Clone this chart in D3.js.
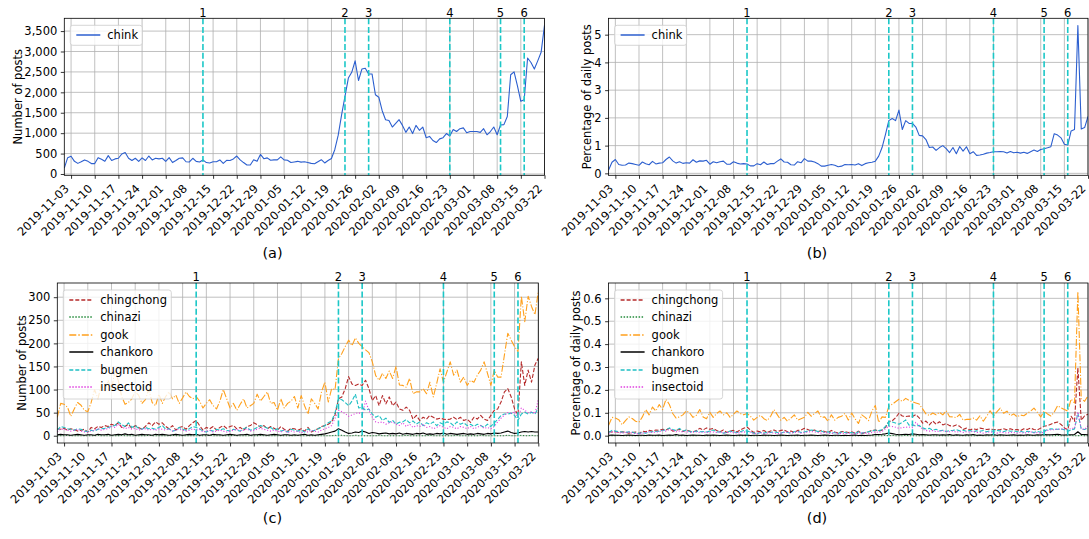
<!DOCTYPE html>
<html>
<head>
<meta charset="utf-8">
<script src="https://cdn.jsdelivr.net/npm/d3@7"></script>
<style>
  html, body { margin: 0; padding: 0; background: #fff; }
  svg { display: block; }
  text { font-family: "DejaVu Sans", sans-serif; }
</style>
</head>
<body>
<svg id="fig" width="1089" height="539"></svg>
<script>
// ---- data (one value per day, 2019-11-01 .. 2020-03-22) ----
var startDay = "2019-11-01";
var dayCount = 143;

var tickLabels = ["2019-11-03","2019-11-10","2019-11-17","2019-11-24","2019-12-01","2019-12-08",
  "2019-12-15","2019-12-22","2019-12-29","2020-01-05","2020-01-12","2020-01-19","2020-01-26",
  "2020-02-02","2020-02-09","2020-02-16","2020-02-23","2020-03-01","2020-03-08","2020-03-15","2020-03-22"];

var eventDates = ["2019-12-12","2020-01-23","2020-01-30","2020-02-23","2020-03-09","2020-03-16"];
var eventLabels = ["1","2","3","4","5","6"];

// (a) number of posts with "chink"
var chinkCounts = [
  143,400,435,310,260,300,345,310,255,255,
  400,360,310,450,330,370,385,490,525,385,
  330,385,310,395,330,440,345,385,370,385,
  310,400,280,330,385,395,300,295,385,310,
  295,345,280,270,300,300,345,260,335,330,
  370,440,345,280,220,220,350,310,480,375,
  395,335,345,345,420,345,335,280,295,310,
  290,300,280,260,250,300,350,270,330,380,
  600,950,1450,1900,2350,2490,2770,2290,2570,2590,
  2450,2450,1940,1880,1550,1330,1310,1150,1240,1330,
  1190,1020,1150,990,1190,1070,1150,890,920,820,
  770,860,890,990,930,1090,1040,1110,1130,1010,
  1040,1040,1040,1020,1110,960,1040,1150,960,1200,
  1210,1410,2430,2500,2160,1780,1820,2840,2730,2570,
  2770,2980,3640];

// (b) percentage of daily posts with "chink"
var chinkPct = [
  0.12,0.40,0.50,0.32,0.29,0.30,0.37,0.35,0.32,0.29,
  0.41,0.35,0.31,0.43,0.34,0.37,0.38,0.50,0.59,0.45,
  0.37,0.42,0.36,0.38,0.37,0.49,0.40,0.45,0.44,0.47,
  0.33,0.42,0.38,0.42,0.44,0.33,0.33,0.42,0.37,0.34,
  0.35,0.34,0.27,0.27,0.35,0.31,0.41,0.32,0.35,0.35,
  0.44,0.52,0.41,0.40,0.31,0.30,0.42,0.38,0.53,0.44,
  0.44,0.41,0.35,0.26,0.26,0.29,0.32,0.29,0.24,0.26,
  0.32,0.31,0.32,0.30,0.35,0.28,0.35,0.38,0.40,0.44,
  0.62,0.93,1.40,1.90,1.98,1.90,2.28,1.58,1.90,1.80,
  1.80,1.67,1.37,1.35,1.22,0.93,0.95,0.83,0.93,1.00,
  0.89,0.75,0.93,0.71,0.97,0.80,0.96,0.71,0.78,0.65,
  0.66,0.69,0.73,0.75,0.78,0.78,0.79,0.78,0.73,0.79,
  0.74,0.76,0.73,0.76,0.72,0.78,0.84,0.79,0.86,0.89,
  0.92,0.96,1.43,1.38,1.28,1.05,1.02,1.53,1.58,5.33,
  1.60,1.65,2.05];

// (c) number of posts, other terms
var chingchongCounts = [
  15,14,16,12,15,13,10,12,14,8,
  18,15,20,18,22,20,25,22,28,18,
  20,25,16,22,18,14,20,28,22,30,
  25,28,20,15,22,12,18,20,14,22,
  28,33,22,12,18,15,20,12,18,22,
  16,20,22,15,18,12,20,22,28,24,
  18,22,15,20,16,12,20,14,10,16,
  15,12,15,10,18,8,12,15,20,22,
  25,30,45,80,84,102,128,112,109,112,
  109,120,102,76,87,65,87,69,84,65,
  73,58,55,62,55,36,44,33,40,36,
  44,40,36,38,36,35,36,40,35,40,
  33,36,29,40,36,44,36,33,44,55,
  58,73,95,102,84,58,45,160,109,142,
  116,153,168];

var chinaziCounts = [
  0,0,0,1,0,0,0,0,0,0,
  0,0,1,0,0,0,0,0,0,1,
  0,0,0,0,0,0,0,1,0,0,
  0,0,0,0,1,0,0,0,0,0,
  0,0,0,0,0,1,0,0,0,0,
  0,0,1,0,0,0,0,0,0,0,
  1,0,0,0,0,0,0,0,0,0,
  0,1,0,0,0,0,0,0,0,0,
  0,0,1,0,1,0,0,0,1,0,
  0,0,0,0,0,1,0,0,0,0,
  0,0,0,1,0,0,0,0,0,0,
  1,0,0,0,0,0,0,0,1,0,
  0,0,0,0,0,1,0,0,0,0,
  0,0,0,1,0,0,0,1,0,0,
  1,0,0];

var gookCounts = [
  40,70,68,62,42,58,72,66,55,52,
  72,100,80,110,95,120,100,140,120,85,
  68,72,80,95,88,70,78,100,72,65,
  90,70,85,95,80,88,70,82,95,85,
  80,85,75,60,70,78,65,58,75,100,
  80,60,70,55,68,80,60,65,70,90,
  75,85,95,70,72,55,80,60,70,75,
  85,60,87,65,47,80,70,58,95,116,
  73,102,100,167,178,193,207,195,212,200,
  193,186,180,160,130,120,135,124,140,124,
  150,110,109,105,124,91,95,95,102,91,
  116,84,113,145,116,138,160,131,142,116,
  127,109,120,116,131,142,160,135,109,142,
  127,127,175,222,207,193,182,302,247,302,
  280,262,312];

var chankoroCounts = [
  2,3,2,2,1,2,3,2,1,2,
  2,1,3,2,2,3,1,2,3,2,
  4,2,3,1,2,3,2,2,1,3,
  2,3,2,1,2,3,2,1,2,3,
  2,3,1,2,2,1,3,2,2,1,
  2,3,2,1,2,2,3,1,2,2,
  3,2,1,2,3,2,1,2,2,1,
  2,1,2,3,1,2,1,2,3,4,
  6,8,10,15,12,8,5,6,8,7,
  10,8,5,7,6,4,5,6,4,5,
  4,6,3,5,4,3,5,4,6,3,
  4,3,5,4,6,3,5,4,3,4,
  5,3,4,3,5,4,3,5,4,6,
  5,6,8,10,7,5,6,8,9,8,
  9,8,8];

var bugmenCounts = [
  12,20,18,15,14,12,15,14,10,9,
  12,10,14,15,16,18,20,22,30,24,
  20,28,18,22,16,14,18,15,16,14,
  18,22,14,15,10,12,18,14,12,15,
  20,18,15,10,8,12,10,14,12,15,
  12,10,14,12,10,15,18,12,14,18,
  22,20,16,18,12,15,10,12,8,14,
  12,10,12,8,15,10,12,15,18,22,
  28,32,50,80,78,72,65,75,90,60,
  62,55,58,47,40,44,33,38,29,33,
  25,29,30,35,28,32,25,30,22,28,
  25,30,22,28,25,30,28,22,30,25,
  28,22,25,20,25,22,18,25,20,28,
  35,44,47,47,49,44,33,47,51,47,
  51,47,60];

var insectoidCounts = [
  8,15,14,12,10,12,14,10,8,8,
  10,12,15,12,14,15,20,18,25,20,
  15,18,14,16,12,14,15,12,14,12,
  15,14,12,15,10,12,14,12,10,12,
  15,12,14,8,10,12,8,10,12,10,
  8,10,12,14,10,12,15,10,12,14,
  16,14,12,10,12,10,8,12,6,10,
  8,10,6,10,8,12,10,8,12,15,
  18,22,38,55,52,48,42,45,48,50,
  45,75,55,40,30,28,30,25,28,30,
  25,22,28,20,25,18,22,20,25,18,
  20,15,18,22,18,15,20,18,15,20,
  18,15,20,15,18,22,16,18,15,20,
  30,38,45,50,48,52,40,60,55,50,
  52,48,78];

// (d) percentage of daily posts, other terms
var chingchongPct = [
  0.017,0.016,0.018,0.014,0.017,0.015,0.011,0.014,0.016,0.009,
  0.020,0.017,0.023,0.020,0.025,0.023,0.028,0.025,0.032,0.020,
  0.023,0.028,0.018,0.025,0.020,0.016,0.023,0.032,0.025,0.034,
  0.028,0.032,0.023,0.017,0.025,0.014,0.020,0.023,0.016,0.025,
  0.032,0.038,0.025,0.014,0.020,0.017,0.023,0.014,0.020,0.025,
  0.018,0.023,0.025,0.017,0.020,0.014,0.023,0.025,0.032,0.027,
  0.020,0.025,0.017,0.023,0.018,0.014,0.023,0.016,0.011,0.018,
  0.017,0.014,0.017,0.011,0.020,0.009,0.014,0.017,0.023,0.025,
  0.020,0.024,0.036,0.062,0.065,0.078,0.098,0.086,0.084,0.086,
  0.084,0.092,0.078,0.055,0.064,0.047,0.064,0.050,0.061,0.047,
  0.053,0.044,0.041,0.047,0.041,0.027,0.033,0.025,0.030,0.027,
  0.033,0.030,0.027,0.029,0.027,0.026,0.027,0.030,0.026,0.030,
  0.025,0.027,0.022,0.030,0.027,0.033,0.027,0.025,0.033,0.041,
  0.044,0.050,0.056,0.060,0.049,0.034,0.026,0.085,0.063,0.296,
  0.067,0.087,0.094];

var chinaziPct = [
  0,0,0,0.001,0,0,0,0,0,0,
  0,0,0.001,0,0,0,0,0,0,0.001,
  0,0,0,0,0,0,0,0.001,0,0,
  0,0,0,0,0.001,0,0,0,0,0,
  0,0,0,0,0,0.001,0,0,0,0,
  0,0,0.001,0,0,0,0,0,0,0,
  0.001,0,0,0,0,0,0,0,0,0,
  0,0.001,0,0,0,0,0,0,0,0,
  0,0,0.001,0,0.001,0,0,0,0.001,0,
  0,0,0,0,0,0.001,0,0,0,0,
  0,0,0,0.001,0,0,0,0,0,0,
  0.001,0,0,0,0,0,0,0,0.001,0,
  0,0,0,0,0,0.001,0,0,0,0,
  0,0,0,0.001,0,0,0,0.001,0,0,
  0.001,0,0];

var gookPct = [
  0.045,0.080,0.077,0.070,0.048,0.066,0.082,0.075,0.063,0.059,
  0.082,0.114,0.091,0.125,0.108,0.136,0.114,0.159,0.136,0.097,
  0.077,0.082,0.091,0.108,0.100,0.080,0.089,0.114,0.082,0.074,
  0.102,0.080,0.097,0.108,0.091,0.100,0.080,0.093,0.108,0.097,
  0.091,0.097,0.085,0.068,0.080,0.089,0.074,0.066,0.085,0.114,
  0.091,0.068,0.080,0.063,0.077,0.091,0.068,0.074,0.080,0.102,
  0.085,0.097,0.108,0.080,0.082,0.063,0.091,0.068,0.080,0.085,
  0.097,0.068,0.099,0.074,0.053,0.091,0.080,0.066,0.108,0.132,
  0.058,0.082,0.080,0.128,0.137,0.148,0.159,0.150,0.163,0.154,
  0.148,0.143,0.138,0.117,0.095,0.088,0.099,0.091,0.102,0.091,
  0.109,0.083,0.082,0.079,0.093,0.068,0.071,0.071,0.077,0.068,
  0.087,0.063,0.085,0.109,0.087,0.104,0.120,0.098,0.107,0.087,
  0.095,0.082,0.090,0.087,0.098,0.107,0.120,0.102,0.082,0.107,
  0.095,0.086,0.103,0.131,0.122,0.114,0.107,0.160,0.143,0.629,
  0.162,0.150,0.175];

var chankoroPct = [
  0.002,0.003,0.002,0.002,0.001,0.002,0.003,0.002,0.001,0.002,
  0.002,0.001,0.003,0.002,0.002,0.003,0.001,0.002,0.003,0.002,
  0.005,0.002,0.003,0.001,0.002,0.003,0.002,0.002,0.001,0.003,
  0.002,0.003,0.002,0.001,0.002,0.003,0.002,0.001,0.002,0.003,
  0.002,0.003,0.001,0.002,0.002,0.001,0.003,0.002,0.002,0.001,
  0.002,0.003,0.002,0.001,0.002,0.002,0.003,0.001,0.002,0.002,
  0.003,0.002,0.001,0.002,0.003,0.002,0.001,0.002,0.002,0.001,
  0.002,0.001,0.002,0.003,0.001,0.002,0.001,0.002,0.003,0.005,
  0.005,0.006,0.008,0.012,0.009,0.006,0.004,0.005,0.006,0.005,
  0.008,0.006,0.004,0.005,0.004,0.003,0.004,0.004,0.003,0.004,
  0.003,0.005,0.002,0.004,0.003,0.002,0.004,0.003,0.005,0.002,
  0.003,0.002,0.004,0.003,0.005,0.002,0.004,0.003,0.002,0.003,
  0.004,0.002,0.003,0.002,0.004,0.003,0.002,0.004,0.003,0.005,
  0.004,0.004,0.005,0.006,0.004,0.003,0.004,0.004,0.005,0.017,
  0.005,0.005,0.004];

var bugmenPct = [
  0.014,0.023,0.020,0.017,0.016,0.014,0.017,0.016,0.011,0.010,
  0.014,0.011,0.016,0.017,0.018,0.020,0.023,0.025,0.034,0.027,
  0.023,0.032,0.020,0.025,0.018,0.016,0.020,0.017,0.018,0.016,
  0.020,0.025,0.016,0.017,0.011,0.014,0.020,0.016,0.014,0.017,
  0.023,0.020,0.017,0.011,0.009,0.014,0.011,0.016,0.014,0.017,
  0.014,0.011,0.016,0.014,0.011,0.017,0.020,0.014,0.016,0.020,
  0.025,0.023,0.018,0.020,0.014,0.017,0.011,0.014,0.009,0.016,
  0.014,0.011,0.014,0.009,0.017,0.011,0.014,0.017,0.020,0.025,
  0.022,0.026,0.040,0.062,0.060,0.055,0.050,0.058,0.069,0.046,
  0.048,0.042,0.045,0.034,0.029,0.032,0.024,0.028,0.021,0.024,
  0.018,0.022,0.023,0.026,0.021,0.024,0.019,0.023,0.017,0.021,
  0.019,0.023,0.017,0.021,0.019,0.023,0.021,0.017,0.023,0.019,
  0.021,0.017,0.019,0.015,0.019,0.017,0.014,0.019,0.015,0.021,
  0.026,0.030,0.028,0.028,0.029,0.026,0.019,0.025,0.029,0.098,
  0.029,0.027,0.034];

var insectoidPct = [
  0.009,0.017,0.016,0.014,0.011,0.014,0.016,0.011,0.009,0.009,
  0.011,0.014,0.017,0.014,0.016,0.017,0.023,0.020,0.028,0.023,
  0.017,0.020,0.016,0.018,0.014,0.016,0.017,0.014,0.016,0.014,
  0.017,0.016,0.014,0.017,0.011,0.014,0.016,0.014,0.011,0.014,
  0.017,0.014,0.016,0.009,0.011,0.014,0.009,0.011,0.014,0.011,
  0.009,0.011,0.014,0.016,0.011,0.014,0.017,0.011,0.014,0.016,
  0.018,0.016,0.014,0.011,0.014,0.011,0.009,0.014,0.007,0.011,
  0.009,0.011,0.007,0.011,0.009,0.014,0.011,0.009,0.014,0.017,
  0.014,0.018,0.030,0.042,0.040,0.037,0.032,0.035,0.037,0.038,
  0.035,0.058,0.042,0.029,0.022,0.020,0.022,0.018,0.020,0.022,
  0.018,0.017,0.021,0.015,0.019,0.014,0.017,0.015,0.019,0.014,
  0.015,0.011,0.014,0.017,0.014,0.011,0.015,0.014,0.011,0.015,
  0.014,0.011,0.015,0.011,0.014,0.017,0.012,0.014,0.011,0.015,
  0.023,0.026,0.026,0.029,0.028,0.031,0.024,0.032,0.032,0.104,
  0.030,0.027,0.044];

// ---- drawing ----
var parseDay = d3.utcParse("%Y-%m-%d");
var day0 = parseDay(startDay);
var days = d3.range(dayCount).map(function(i) { return d3.utcDay.offset(day0, i); });
var tickDates = tickLabels.map(parseDay);
var events = eventDates.map(function(d, i) { return {date: parseDay(d), label: eventLabels[i]}; });

var svg = d3.select("#fig");
svg.append("rect").attr("width", 1089).attr("height", 539).attr("fill", "#fff");

var FONT = 11.5;
var eventColor = "#1cc7c7";

function drawPanel(cfg) {
  var g = svg.append("g");
  var x = d3.scaleUtc().domain([days[0], days[dayCount - 1]]).range([cfg.left, cfg.right]);
  var y = d3.scaleLinear().domain(cfg.yDomain).range([cfg.bottom, cfg.top]);

  var clipId = "clip" + cfg.id;
  svg.append("clipPath").attr("id", clipId).append("rect")
    .attr("x", cfg.left).attr("y", cfg.top)
    .attr("width", cfg.right - cfg.left).attr("height", cfg.bottom - cfg.top);

  // grid
  g.append("g").selectAll("line").data(tickDates).join("line")
    .attr("x1", function(d) { return x(d); }).attr("x2", function(d) { return x(d); })
    .attr("y1", cfg.top).attr("y2", cfg.bottom)
    .attr("stroke", "#b0b0b0").attr("stroke-width", 0.8);
  g.append("g").selectAll("line").data(cfg.yTicks).join("line")
    .attr("x1", cfg.left).attr("x2", cfg.right)
    .attr("y1", function(d) { return y(d); }).attr("y2", function(d) { return y(d); })
    .attr("stroke", "#b0b0b0").attr("stroke-width", 0.8);

  // series
  var line = d3.line()
    .x(function(d, i) { return x(days[i]); })
    .y(function(d) { return y(d); });
  var plot = g.append("g").attr("clip-path", "url(#" + clipId + ")");
  cfg.series.forEach(function(s) {
    plot.append("path").datum(s.values)
      .attr("d", line)
      .attr("fill", "none")
      .attr("stroke", s.color)
      .attr("stroke-width", s.width || 1.1)
      .attr("stroke-dasharray", s.dash || null)
      .attr("stroke-linejoin", "round");
  });

  // event markers
  g.append("g").selectAll("line").data(events).join("line")
    .attr("x1", function(d) { return x(d.date); }).attr("x2", function(d) { return x(d.date); })
    .attr("y1", cfg.top).attr("y2", cfg.bottom)
    .attr("stroke", eventColor).attr("stroke-width", 1.6)
    .attr("stroke-dasharray", "6,2.6");
  g.append("g").selectAll("text").data(events).join("text")
    .attr("x", function(d) { return x(d.date); })
    .attr("y", cfg.top - 1.8)
    .attr("text-anchor", "middle")
    .attr("font-size", FONT)
    .text(function(d) { return d.label; });

  // frame
  g.append("rect")
    .attr("x", cfg.left).attr("y", cfg.top)
    .attr("width", cfg.right - cfg.left).attr("height", cfg.bottom - cfg.top)
    .attr("fill", "none").attr("stroke", "#000").attr("stroke-width", 0.8);

  // axes
  var yAxis = g.append("g")
    .attr("transform", "translate(" + cfg.left + ",0)")
    .call(d3.axisLeft(y).tickValues(cfg.yTicks).tickFormat(cfg.yFormat)
      .tickSize(3.5).tickPadding(3.5));
  var xAxis = g.append("g")
    .attr("transform", "translate(0," + cfg.bottom + ")")
    .call(d3.axisBottom(x).tickValues(tickDates)
      .tickFormat(function(d, i) { return tickLabels[i]; })
      .tickSize(3.5));
  [yAxis, xAxis].forEach(function(a) {
    a.attr("font-family", null).attr("font-size", FONT);
    a.select(".domain").remove();
    a.selectAll(".tick line").attr("stroke-width", 0.8);
    a.selectAll("text").attr("fill", "#000");
  });
  xAxis.selectAll("text")
    .attr("y", null).attr("dy", null)
    .attr("text-anchor", "end")
    .attr("transform", "translate(-2,14) rotate(-45)");

  // y label
  g.append("text")
    .attr("transform", "translate(" + cfg.yLabelX + "," + ((cfg.top + cfg.bottom) / 2) + ") rotate(-90)")
    .attr("text-anchor", "middle")
    .attr("font-size", FONT)
    .text(cfg.yLabel);

  // legend
  var lx = cfg.left + 6, ly = cfg.top + 7;
  var rowH = 17.5;
  var many = cfg.series.length > 1;
  var lh = many ? cfg.series.length * rowH + 4 : 20;
  var lw = many ? 108 : 72;
  var leg = g.append("g");
  leg.append("rect")
    .attr("x", lx).attr("y", ly).attr("width", lw).attr("height", lh)
    .attr("rx", 2.5)
    .attr("fill", "#fff").attr("fill-opacity", 0.8)
    .attr("stroke", "#cccccc").attr("stroke-width", 0.8);
  cfg.series.forEach(function(s, i) {
    var cy = Math.round(ly + (many ? 9.5 + i * rowH : 10));
    leg.append("line")
      .attr("x1", lx + 6).attr("x2", lx + 30)
      .attr("y1", cy).attr("y2", cy)
      .attr("stroke", s.color).attr("stroke-width", 1.5)
      .attr("stroke-dasharray", s.legendDash || s.dash || null);
    leg.append("text")
      .attr("x", lx + 37).attr("y", cy)
      .attr("dy", "0.35em")
      .attr("font-size", FONT)
      .text(s.name);
  });

  // caption
  svg.append("text")
    .attr("x", cfg.capX).attr("y", cfg.capY)
    .attr("text-anchor", "middle")
    .attr("font-family", "'Liberation Serif', 'DejaVu Serif', serif")
    .attr("font-size", 14.5)
    .text(cfg.caption);
}

var commaFmt = d3.format(",");
var dashStyle = "4.2,1.8", dotStyle = "1.1,1.8", dashDot = "7,1.8,1.1,1.8";

function otherSeries(vals) {
  return [
    {name: "chingchong", values: vals[0], color: "#b52a2a", dash: dashStyle, legendDash: "4,2"},
    {name: "chinazi", values: vals[1], color: "#228b3a", dash: dotStyle, legendDash: "1.5,1.5"},
    {name: "gook", values: vals[2], color: "#ffa01c", dash: dashDot, legendDash: "7,2,1.5,2"},
    {name: "chankoro", values: vals[3], color: "#000000"},
    {name: "bugmen", values: vals[4], color: "#1fbfc4", dash: dashStyle, legendDash: "4,2"},
    {name: "insectoid", values: vals[5], color: "#e040e0", dash: dotStyle, legendDash: "1.5,1.5"}
  ];
}

drawPanel({
  id: "a", left: 64.3, right: 544.5, top: 18.3, bottom: 175.3,
  yDomain: [-32, 3813], yTicks: d3.range(0, 3501, 500), yFormat: commaFmt,
  yLabel: "Number of posts", yLabelX: 21.5,
  series: [{name: "chink", values: chinkCounts, color: "#2c5fcf"}],
  caption: "(a)", capX: 272.5, capY: 258
});

drawPanel({
  id: "b", left: 608.6, right: 1088, top: 18.3, bottom: 175.3,
  yDomain: [-0.07, 5.59], yTicks: [0, 1, 2, 3, 4, 5], yFormat: d3.format("d"),
  yLabel: "Percentage of daily posts", yLabelX: 591,
  series: [{name: "chink", values: chinkPct, color: "#2c5fcf"}],
  caption: "(b)", capX: 817, capY: 258
});

drawPanel({
  id: "c", left: 57.3, right: 538.3, top: 283, bottom: 443,
  yDomain: [-15.75, 330.75], yTicks: d3.range(0, 301, 50), yFormat: d3.format("d"),
  yLabel: "Number of posts", yLabelX: 26,
  series: otherSeries([chingchongCounts, chinaziCounts, gookCounts, chankoroCounts, bugmenCounts, insectoidCounts]),
  caption: "(c)", capX: 272.5, capY: 523
});

drawPanel({
  id: "d", left: 608.6, right: 1088, top: 283, bottom: 443,
  yDomain: [-0.032, 0.667], yTicks: [0, 0.1, 0.2, 0.3, 0.4, 0.5, 0.6], yFormat: d3.format(".1f"),
  yLabel: "Percentage of daily posts", yLabelX: 580,
  series: otherSeries([chingchongPct, chinaziPct, gookPct, chankoroPct, bugmenPct, insectoidPct]),
  caption: "(d)", capX: 817, capY: 523
});
</script>
</body>
</html>
